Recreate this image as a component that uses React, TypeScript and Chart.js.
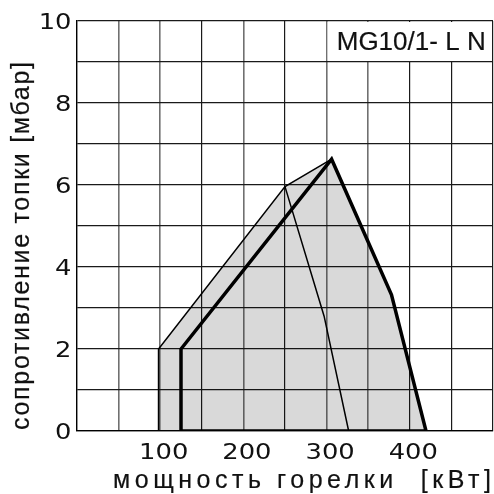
import React, { useEffect, useRef } from 'react';
import { Chart, registerables } from 'chart.js';
Chart.register(...registerables);

const xTickValues = [100, 200, 300, 400];
const yTickValues = [0, 2, 4, 6, 8, 10];
const areaX = [98, 98, 250, 306, 378, 419.5];
const areaY = [0, 2, 5.96, 6.63, 3.32, 0];
const thinOuterX = [98, 98, 250, 306];
const thinOuterY = [0, 2, 5.96, 6.63];
const thinInnerX = [250, 297, 326.5];
const thinInnerY = [5.96, 2.8, 0];
const thickX = [125, 125, 306, 378, 419.5, 125];
const thickY = [0, 2, 6.63, 3.32, 0, 0];
const darkXGrid = [0, 150, 250, 400, 450, 500];
const xTitle = 'мощность горелки  [кВт]';
const yTitle = 'сопротивление топки [мбар]';
const modelLabel = 'MG10/1- L N';

const FONT = '"Liberation Sans", Arial, sans-serif';
const DIGIT_FONT = '"DejaVu Sans", sans-serif';

const zip = (xs: number[], ys: number[]) => xs.map((x, i) => ({ x, y: ys[i] }));

function spacedText(ctx: any, text: string, size: number, target: number) {
  ctx.font = `${size}px ${FONT}`;
  ctx.letterSpacing = '0px';
  const w = ctx.measureText(text).width;
  const ls = (target - w) / Math.max(1, text.length - 1);
  ctx.letterSpacing = `${ls}px`;
  return ls;
}

function heavyText(ctx: any, text: string, x: number, y: number, lw = 0.2) {
  ctx.fillText(text, x, y);
  ctx.lineWidth = lw;
  ctx.strokeStyle = ctx.fillStyle;
  ctx.strokeText(text, x, y);
}

const textPlugin = {
  id: 'textPlugin',
  afterDraw(chart: any) {
    const ctx = chart.ctx;
    const xs = chart.scales.x;
    const ys = chart.scales.y;
    ctx.save();
    ctx.fillStyle = '#111';
    // x tick labels (wide digits)
    xTickValues.forEach((v) => {
      ctx.save();
      ctx.font = `21.5px ${DIGIT_FONT}`;
      ctx.letterSpacing = '0px';
      ctx.translate(xs.getPixelForValue(v) + 3.5, 459);
      ctx.scale(1.2, 1);
      ctx.textAlign = 'center';
      ctx.textBaseline = 'alphabetic';
      ctx.fillText(String(v), 0, 0);
      ctx.restore();
    });
    // y tick labels
    yTickValues.forEach((v) => {
      ctx.save();
      ctx.font = `21.5px ${DIGIT_FONT}`;
      ctx.letterSpacing = '0px';
      ctx.translate(71.5, ys.getPixelForValue(v) + 8);
      ctx.scale(1.2, 1);
      ctx.textAlign = 'right';
      ctx.textBaseline = 'alphabetic';
      ctx.fillText(String(v), 0, 0);
      ctx.restore();
    });
    // x title
    ctx.save();
    spacedText(ctx, xTitle, 25, 378);
    ctx.textAlign = 'left';
    ctx.textBaseline = 'alphabetic';
    heavyText(ctx, xTitle, 113, 488);
    ctx.restore();
    // y title
    ctx.save();
    spacedText(ctx, yTitle, 25, 368);
    ctx.translate(28.5, 430);
    ctx.rotate(-Math.PI / 2);
    ctx.textAlign = 'left';
    ctx.textBaseline = 'alphabetic';
    heavyText(ctx, yTitle, 0, 0);
    ctx.restore();
    // model label box
    const bx0 = xs.getPixelForValue(300) + 1;
    const bx1 = xs.getPixelForValue(500) - 1;
    const by0 = ys.getPixelForValue(10) + 1;
    const by1 = ys.getPixelForValue(9) - 1;
    ctx.fillStyle = '#fff';
    ctx.fillRect(bx0, by0, bx1 - bx0, by1 - by0);
    ctx.fillStyle = '#111';
    spacedText(ctx, modelLabel, 26, 149);
    ctx.textAlign = 'left';
    ctx.textBaseline = 'alphabetic';
    heavyText(ctx, modelLabel, 336.7, 50);
    ctx.restore();
  },
};

export default function App() {
  const ref = useRef<HTMLCanvasElement | null>(null);
  useEffect(() => {
    if (!ref.current) return;
    const chart = new Chart(ref.current, {
      type: 'scatter',
      data: {
        datasets: [
          {
            data: zip(thickX, thickY),
            showLine: true,
            borderColor: '#000',
            borderWidth: 3.5,
            pointRadius: 0,
            fill: false,
            borderJoinStyle: 'miter',
          } as any,
          {
            data: zip(thinOuterX, thinOuterY),
            showLine: true,
            borderColor: '#000',
            borderWidth: 1.5,
            pointRadius: 0,
            fill: false,
          },
          {
            data: zip(thinInnerX, thinInnerY),
            showLine: true,
            borderColor: '#000',
            borderWidth: 1.5,
            pointRadius: 0,
            fill: false,
          },
          {
            data: zip(areaX, areaY),
            showLine: true,
            borderWidth: 0,
            borderColor: 'rgba(0,0,0,0)',
            backgroundColor: 'rgba(0,0,0,0.15)',
            pointRadius: 0,
            fill: 'origin',
          },
        ],
      },
      options: {
        animation: false,
        responsive: false,
        maintainAspectRatio: false,
        layout: { padding: { top: 21, right: 1, left: 0, bottom: 0 } },
        plugins: { legend: { display: false }, tooltip: { enabled: false } },
        scales: {
          x: {
            type: 'linear',
            min: 0,
            max: 500,
            ticks: { stepSize: 50, display: false },
            grid: {
              drawTicks: false,
              color: (c: any) => (darkXGrid.includes(c.tick?.value) ? '#1a1a1a' : '#707070'),
              lineWidth: (c: any) => (darkXGrid.includes(c.tick?.value) ? 1.2 : 1.6),
            },
            border: { display: true, color: '#000', width: 1.3 },
            afterFit: (s: any) => { s.height = 63; },
          },
          y: {
            type: 'linear',
            min: 0,
            max: 10,
            ticks: { stepSize: 1, display: false },
            grid: { drawTicks: false, color: '#1a1a1a', lineWidth: 1.2 },
            border: { display: true, color: '#000', width: 1.3 },
            afterFit: (s: any) => { s.width = 77; },
          },
        },
      },
      plugins: [textPlugin],
    });
    return () => chart.destroy();
  }, []);
  return (
    <div style={{ position: 'absolute', left: 0, top: 0, width: 494, height: 494, background: '#fff' }}>
      <canvas ref={ref} width={494} height={494} style={{ width: 494, height: 494, display: 'block' }} />
    </div>
  );
}
